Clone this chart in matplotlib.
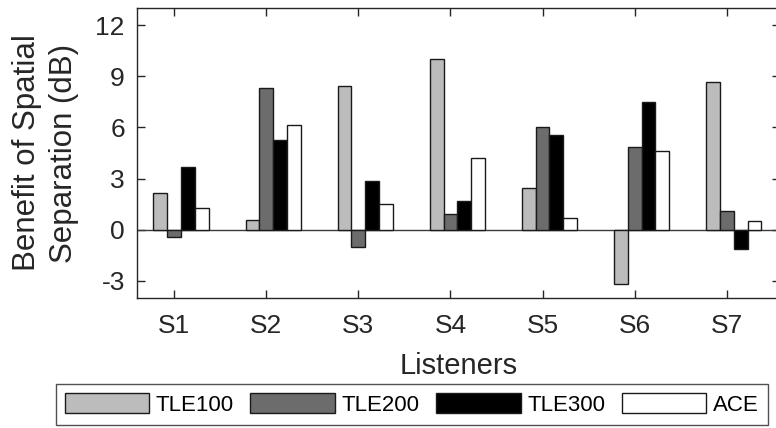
import numpy as np
import matplotlib
matplotlib.use("Agg")
import matplotlib.pyplot as plt

plt.rcParams['font.family'] = ['Liberation Sans', 'DejaVu Sans']

listeners = ['S1', 'S2', 'S3', 'S4', 'S5', 'S6', 'S7']
tle100 = [2.13, 0.55, 8.46, 10.04, 2.47, -3.20, 8.68]
tle200 = [-0.43, 8.30, -1.03, 0.93, 6.02, 4.85, 1.10]
tle300 = [3.65, 5.25, 2.88, 1.68, 5.54, 7.51, -1.14]
ace = [1.24, 6.15, 1.48, 4.18, 0.71, 4.63, 0.53]

series = [('TLE100', tle100, '#bcbcbc'),
          ('TLE200', tle200, '#6c6c6c'),
          ('TLE300', tle300, '#000000'),
          ('ACE', ace, '#ffffff')]
offsets = [-0.15, 0.0, 0.15, 0.30]
width = 0.15

fig = plt.figure(figsize=(7.76, 4.28), dpi=100)
W, H = 776, 428
left, right, top, bottom = 137.3, 780.2, 8.3, 297.7
ax = fig.add_axes([left / W, 1 - bottom / H, (right - left) / W, (bottom - top) / H])

x = np.arange(1, len(listeners) + 1)
for (name, vals, col), off in zip(series, offsets):
    ax.bar(x + off, vals, width, color=col, edgecolor='#1a1a1a', linewidth=1.0,
           label=name, zorder=3)

ax.axhline(0, color='#3a3a3a', linewidth=1.0, zorder=2)

ax.set_xlim(0.6, 7.58)
ax.set_ylim(-4, 13)
ax.set_xticks(x)
ax.set_xticklabels(listeners)
ax.set_yticks([-3, 0, 3, 6, 9, 12])
ax.set_yticklabels(['-3', '0', '3', '6', '9', '12'])

for s in ax.spines.values():
    s.set_color('#262626')
    s.set_linewidth(1.0)
ax.tick_params(direction='in', length=6, width=1.0, color='#262626',
               labelsize=19, labelcolor='#262626', top=True, right=True)
ax.tick_params(axis='x', pad=12)
ax.tick_params(axis='y', pad=9)

ax.set_xlabel('Listeners', fontsize=21, color='#262626', labelpad=10)
ax.set_ylabel('Benefit of Spatial\nSeparation (dB)', fontsize=22.5, color='#262626',
              labelpad=12, linespacing=1.3)

leg = fig.legend(loc='center', bbox_to_anchor=(411.7 / W, 1 - 404.35 / H), ncol=4,
                 fontsize=16, frameon=True, fancybox=False, edgecolor='#262626',
                 handlelength=3.8, handleheight=1.0, handletextpad=0.3,
                 columnspacing=0.75, borderpad=0.4)
leg.get_frame().set_linewidth(1.0)
for t in leg.get_texts():
    t.set_color('#000000')

fig.savefig('out.png', dpi=100)
